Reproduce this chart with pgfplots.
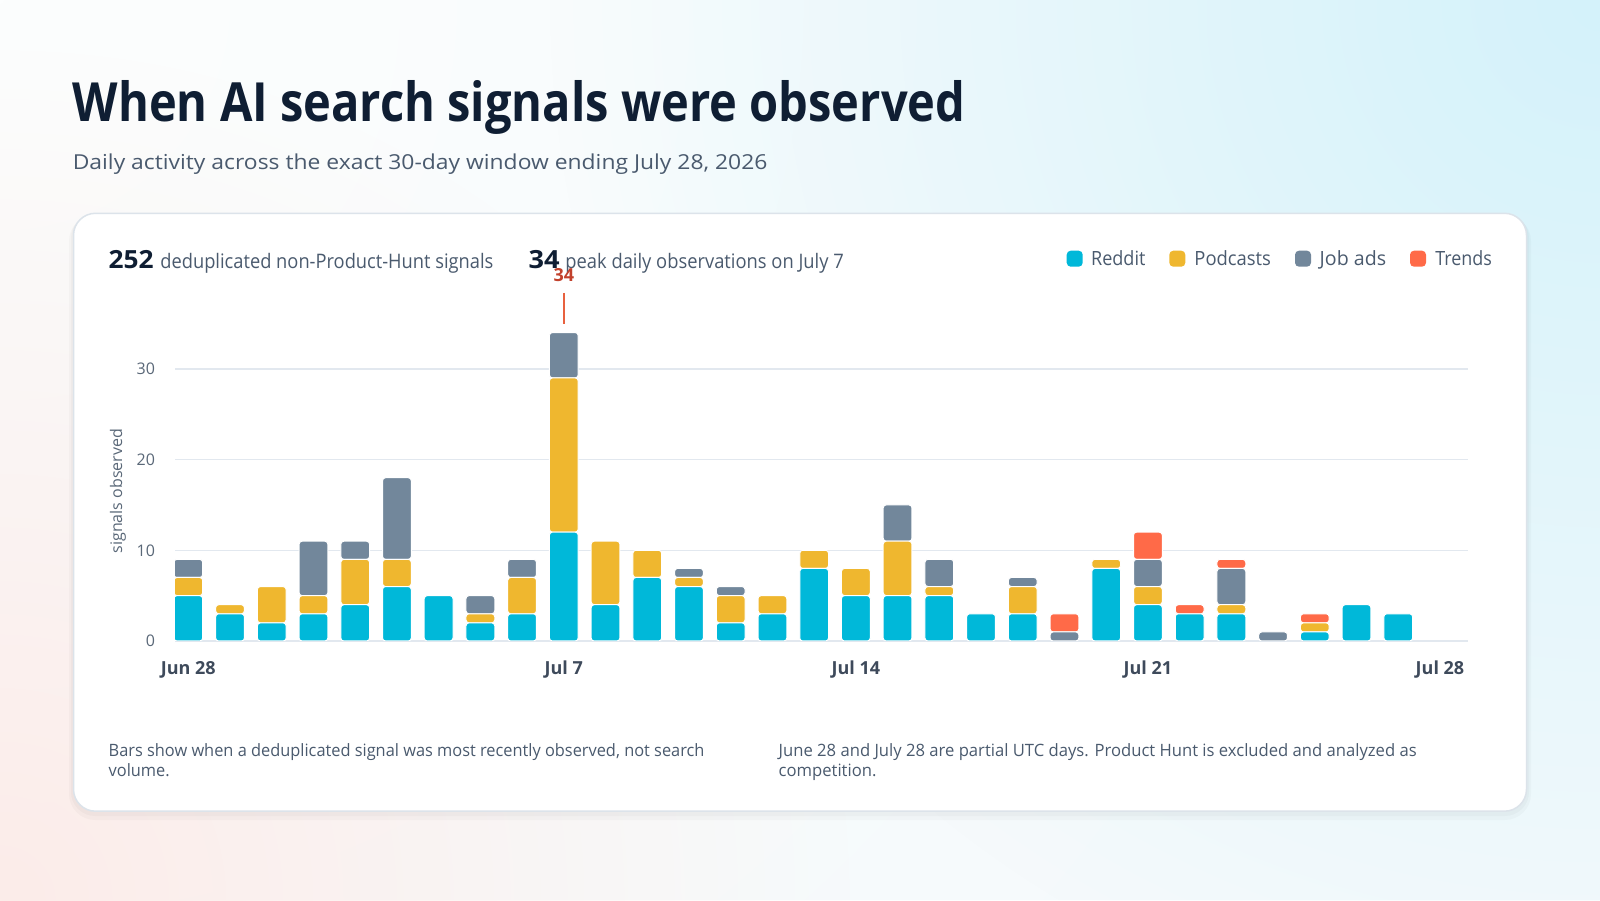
\documentclass[border=0pt]{standalone}
\usepackage{fontspec}
\setmainfont{Open Sans}
\usepackage{graphicx}
\usepackage{pgfplots}
\usepackage{pgfplotstable}
\pgfplotsset{compat=1.18}
\usetikzlibrary{shadings,fadings}
\tikzfading[name=glow, inner color=transparent!0, outer color=transparent!100]
\definecolor{cReddit}{HTML}{00B8D9}
\definecolor{cPod}{HTML}{EFB72F}
\definecolor{cJob}{HTML}{72879B}
\definecolor{cTrend}{HTML}{FF6A48}
\definecolor{cTitle}{HTML}{0F1E33}
\definecolor{cText}{HTML}{4A5A6E}
\definecolor{cTick}{HTML}{5A6878}
\definecolor{cXTick}{HTML}{3E4A5B}
\definecolor{cGrid}{HTML}{E2E8EF}
\definecolor{cBorder}{HTML}{DCE3EA}
\definecolor{cPeak}{HTML}{C2412C}
\definecolor{cPeakLine}{HTML}{E8613F}
\definecolor{bgBase}{HTML}{F5FAFC}
\definecolor{bgTL}{HTML}{FCFEFE}
\definecolor{bgTR}{HTML}{D4F2FA}
\definecolor{bgBL}{HTML}{FCECE9}
\pgfplotstableread{
x R P J T
0 5 2 2 0
1 3 1 0 0
2 2 4 0 0
3 3 2 6 0
4 4 5 2 0
5 6 3 9 0
6 5 0 0 0
7 2 1 2 0
8 3 4 2 0
9 12 17 5 0
10 4 7 0 0
11 7 3 0 0
12 6 1 1 0
13 2 3 1 0
14 3 2 0 0
15 8 2 0 0
16 5 3 0 0
17 5 6 4 0
18 5 1 3 0
19 3 0 0 0
20 3 3 1 0
21 0 0 1 2
22 8 1 0 0
23 4 2 3 3
24 3 0 0 1
25 3 1 4 1
26 0 0 1 0
27 1 1 0 1
28 4 0 0 0
29 3 0 0 0
}\data
\begin{document}
\begin{tikzpicture}
% background and card (px coordinates, 1px = 0.5pt)
\begin{scope}[x=0.5pt,y=-0.5pt,shift={(0,450pt)}]
\fill[bgBase] (0,0) rectangle (1600,900);
\begin{scope}
\clip (0,0) rectangle (1600,900);
\fill[bgTL, path fading=glow] (0,0) circle (1600);
\fill[bgBL, path fading=glow] (0,900) circle (850);
\fill[bgTR, path fading=glow] (1600,0) circle (1050);
\end{scope}
\fill[black,opacity=0.025,rounded corners=13pt] (69,215) rectangle (1531,820);
\fill[black,opacity=0.025,rounded corners=12pt] (71,214) rectangle (1529,816);
\filldraw[fill=white,draw=cBorder,line width=0.75pt,rounded corners=11pt] (73.5,213.3) rectangle (1526.5,811.2);
\end{scope}
\begin{axis}[
  at={(87.5pt,129.5pt)}, anchor=south west, scale only axis,
  width=646.25pt, height=163.3pt,
  xmin=-0.319, xmax=30.66, ymin=0, ymax=36,
  enlargelimits=false,
  ybar stacked, bar width=0.69,
  axis line style={draw=none}, tick style={draw=none},
  ymajorgrids, grid style={cGrid,line width=0.75pt},
  ytick={0,10,20,30},
  xtick={0,9,16,23,30},
  xticklabels={Jun 28,Jul 7,Jul 14,Jul 21,Jul 28},
  /pgf/number format/assume math mode=true,
  yticklabel style={font=\fontsize{8}{9}\selectfont, text=cTick, xshift=-6.5pt},
  xticklabel style={font=\fontsize{9}{10}\selectfont\bfseries, text=cXTick, yshift=-6.5pt},
  ylabel={signals observed},
  ylabel style={font=\fontsize{8}{9}\selectfont, text=cTick, at={(axis description cs:-0.0441,0.459)}, anchor=center},
]
\addplot[fill=cReddit,draw=white,line width=0.5pt,rounded corners=1.5pt] table[x=x,y=R]{\data};
\addplot[fill=cPod,draw=white,line width=0.5pt,rounded corners=1.5pt] table[x=x,y=P]{\data};
\addplot[fill=cJob,draw=white,line width=0.5pt,rounded corners=1.5pt] table[x=x,y=J]{\data};
\addplot[fill=cTrend,draw=white,line width=0.5pt,rounded corners=1.5pt] table[x=x,y=T]{\data};
\end{axis}
\begin{scope}[x=0.5pt,y=-0.5pt,shift={(0,450pt)}]
% title
\node[anchor=base west,inner sep=0,text=cTitle] at (72.4,121.7) {\resizebox{446.3pt}{\height}{\fontsize{27}{30}\selectfont\bfseries When AI search signals were observed}};
\node[anchor=base west,inner sep=0,text=cText] at (72.4,169.3) {\resizebox{347.3pt}{\height}{\fontsize{10.3}{12}\selectfont Daily activity across the exact 30-day window ending July 28, 2026}};
% header stats
\node[anchor=base west,inner sep=0,text=cTitle] at (108.3,268.3) {\resizebox{22.5pt}{\height}{\fontsize{12.5}{14}\selectfont\bfseries 252}};
\node[anchor=base west,inner sep=0,text=cText] at (160,268.3) {\resizebox{166.5pt}{\height}{\fontsize{10}{12}\selectfont deduplicated non-Product-Hunt signals}};
\node[anchor=base west,inner sep=0,text=cTitle] at (528.3,268.3) {\resizebox{15.5pt}{\height}{\fontsize{12.5}{14}\selectfont\bfseries 34}};
\node[anchor=base west,inner sep=0,text=cText] at (565,268.3) {\resizebox{139.2pt}{\height}{\fontsize{10}{12}\selectfont peak daily observations on July 7}};
% peak marker
\draw[cPeakLine,line width=1pt] (563.8,293) -- (563.8,324);
\node[anchor=base,inner sep=0,text=cPeak] at (563.8,281.7) {\fontsize{9}{10}\selectfont\bfseries 34};
% legend
\fill[cReddit,rounded corners=2pt] (1066.7,250.7) rectangle (1082.7,266.7);
\node[anchor=base west,inner sep=0,text=cText] at (1090.7,266) {\resizebox{27.2pt}{\height}{\fontsize{9.8}{12}\selectfont Reddit}};
\fill[cPod,rounded corners=2pt] (1169.3,250.7) rectangle (1185.3,266.7);
\node[anchor=base west,inner sep=0,text=cText] at (1194,266) {\resizebox{38.3pt}{\height}{\fontsize{9.8}{12}\selectfont Podcasts}};
\fill[cJob,rounded corners=2pt] (1295,250.7) rectangle (1311,266.7);
\node[anchor=base west,inner sep=0,text=cText] at (1319.3,266) {\resizebox{33.2pt}{\height}{\fontsize{9.8}{12}\selectfont Job ads}};
\fill[cTrend,rounded corners=2pt] (1410,250.7) rectangle (1426,266.7);
\node[anchor=base west,inner sep=0,text=cText] at (1435,266) {\resizebox{28.3pt}{\height}{\fontsize{9.8}{12}\selectfont Trends}};
% footnotes
\node[anchor=base west,inner sep=0,text=cText] at (108.3,756.7) {\resizebox{297.9pt}{\height}{\fontsize{8.5}{9.7}\selectfont\begin{tabular}[t]{@{}l@{}}Bars show when a deduplicated signal was most recently observed, not search\\volume.\end{tabular}}};
\node[anchor=base west,inner sep=0,text=cText] at (778.3,756.7) {\resizebox{319pt}{\height}{\fontsize{8.5}{9.7}\selectfont\begin{tabular}[t]{@{}l@{}}June 28 and July 28 are partial UTC days. Product Hunt is excluded and analyzed as\\competition.\end{tabular}}};
\end{scope}
\end{tikzpicture}
\end{document}
